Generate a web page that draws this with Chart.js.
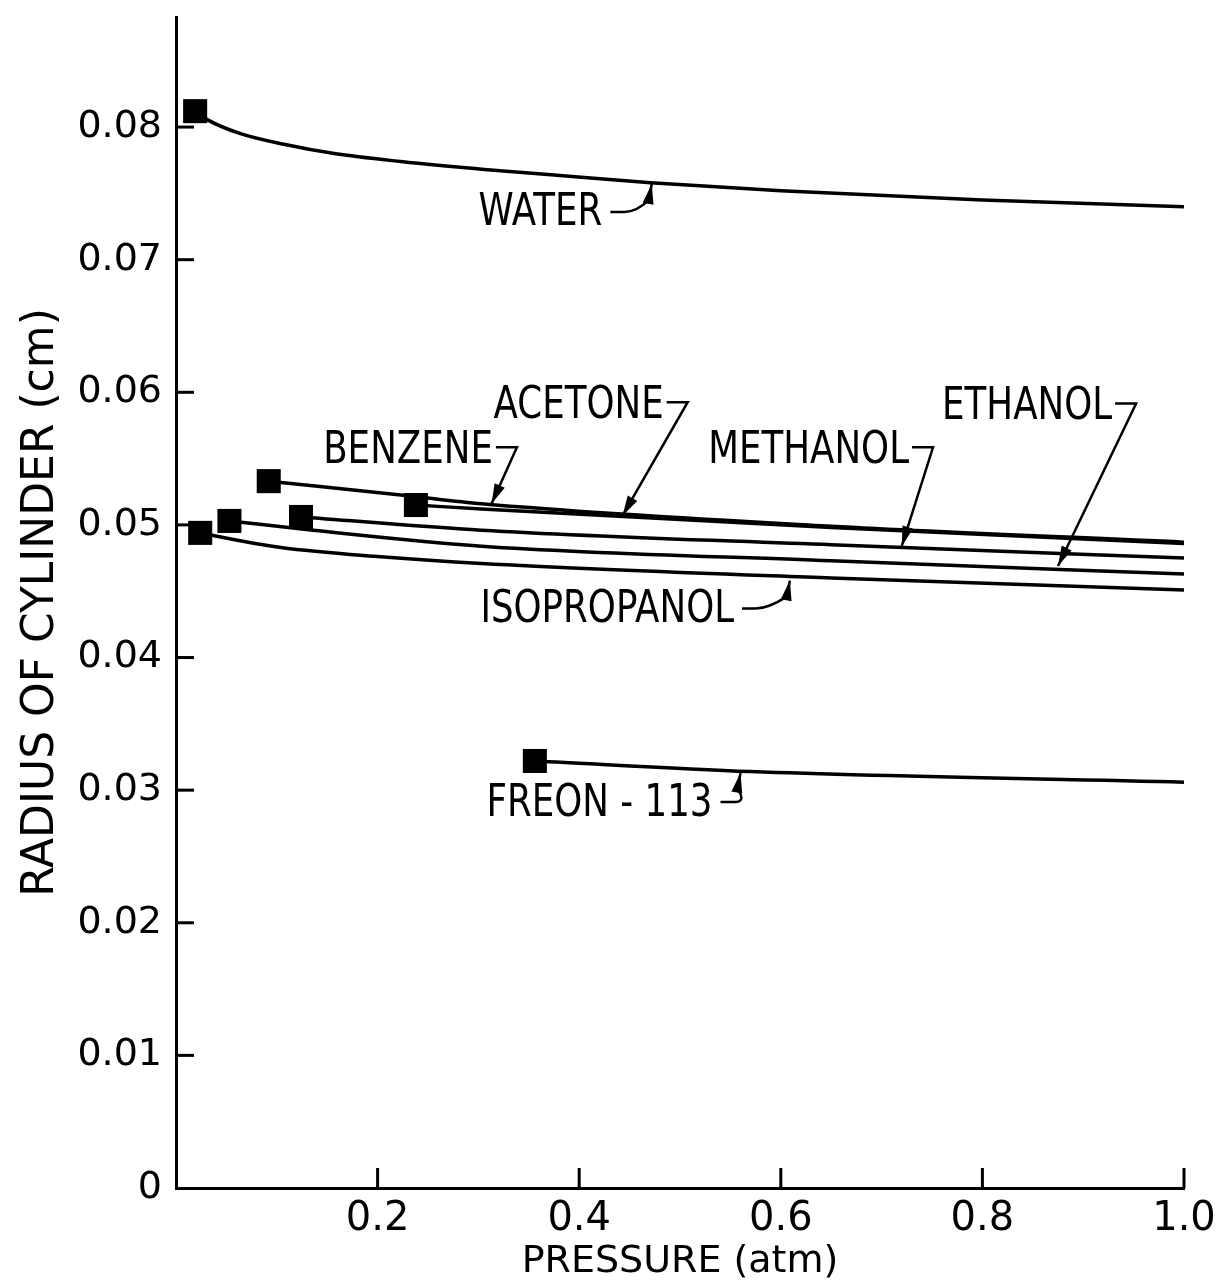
<!DOCTYPE html>
<html>
<head>
<meta charset="utf-8">
<script src="https://cdn.jsdelivr.net/npm/chart.js@4.4.0/dist/chart.umd.min.js"></script>
<style>
  html, body { margin: 0; padding: 0; background: #fff; }
  #wrap { width: 1225px; height: 1282px; }
</style>
</head>
<body>
<div id="wrap"><canvas id="chart" width="1225" height="1282"></canvas></div>
<script>
// ── Data (pressure in atm, radius in cm) ────────────────────────────────────

const waterP = [0.019, 0.030, 0.064, 0.107, 0.157, 0.223, 0.306, 0.372, 0.471, 0.600, 0.800, 1.0];
const waterR = [0.0812, 0.0806, 0.0795, 0.0787, 0.0780, 0.0774, 0.0768, 0.0764, 0.0758, 0.0752, 0.0745, 0.0740];

const benzeneP = [0.092, 0.230, 0.303, 0.650, 1.0];
const benzeneR = [0.0533, 0.0522, 0.0516, 0.0499, 0.0487];

const acetoneP = [0.238, 0.303, 0.650, 1.0];
const acetoneR = [0.0515, 0.0512, 0.0498, 0.0486];

const methanolP = [0.124, 0.303, 0.650, 1.0];
const methanolR = [0.0506, 0.0496, 0.0485, 0.0475];

const ethanolP = [0.053, 0.136, 0.303, 0.650, 1.0];
const ethanolR = [0.0503, 0.0496, 0.0484, 0.0473, 0.0463];

const isopropanolP = [0.024, 0.037, 0.104, 0.203, 0.303, 0.650, 1.0];
const isopropanolR = [0.0494, 0.0492, 0.0483, 0.0476, 0.0471, 0.0460, 0.0451];

const freonP = [0.356, 0.570, 1.0];
const freonR = [0.0322, 0.0314, 0.0306];

const xTicks = [0.2, 0.4, 0.6, 0.8, 1.0];
const yTicks = [0, 0.01, 0.02, 0.03, 0.04, 0.05, 0.06, 0.07, 0.08];

// label text, its left/middle anchor and the point its leader touches (data units)
const callouts = [
    { text: 'WATER',       x: 0.300, y: 0.0736, tipX: 0.472, tipY: 0.0757, kind: 'hook' },
    { text: 'BENZENE',     x: 0.146, y: 0.0557, tipX: 0.313, tipY: 0.0516, kind: 'flag' },
    { text: 'ACETONE',     x: 0.315, y: 0.0591, tipX: 0.443, tipY: 0.0507, kind: 'flag' },
    { text: 'METHANOL',    x: 0.528, y: 0.0557, tipX: 0.720, tipY: 0.0484, kind: 'flag' },
    { text: 'ETHANOL',     x: 0.760, y: 0.0590, tipX: 0.875, tipY: 0.0469, kind: 'flag' },
    { text: 'ISOPROPANOL', x: 0.302, y: 0.0437, tipX: 0.609, tipY: 0.0458, kind: 'hook' },
    { text: 'FREON - 113', x: 0.308, y: 0.0291, tipX: 0.560, tipY: 0.0313, kind: 'hook' },
];

// ── Helpers ─────────────────────────────────────────────────────────────────

const FONT = '"DejaVu Sans", "Liberation Sans", sans-serif';

function pts(xs, ys) {
    return xs.map((v, i) => ({ x: v, y: ys[i] }));
}

function curve(label, xs, ys) {
    return {
        label,
        data: pts(xs, ys),
        borderColor: '#000',
        borderWidth: 3.5,
        cubicInterpolationMode: 'monotone',
        pointStyle: 'rect',
        pointRadius: ctx => (ctx.dataIndex === 0 ? 17 : 0),
        pointBackgroundColor: '#000',
        pointBorderWidth: 0,
        fill: false,
    };
}

function arrowHead(ctx, fromX, fromY, tipX, tipY) {
    const a = Math.atan2(tipY - fromY, tipX - fromX);
    const len = 20, half = 5.5;
    const bx = tipX - Math.cos(a) * len, by = tipY - Math.sin(a) * len;
    ctx.beginPath();
    ctx.moveTo(tipX, tipY);
    ctx.lineTo(bx + Math.sin(a) * half, by - Math.cos(a) * half);
    ctx.lineTo(bx - Math.sin(a) * half, by + Math.cos(a) * half);
    ctx.closePath();
    ctx.fill();
}

function noEdgePadding(s) {
    s.paddingTop = 0;
    s.paddingBottom = 0;
    s.paddingLeft = 0;
    s.paddingRight = 0;
}

// inward tick marks + hand-lettered labels with leaders
const figurePlugin = {
    id: 'figure',
    afterDatasetsDraw(chart) {
        const { ctx, chartArea, scales: { x, y } } = chart;
        ctx.save();
        ctx.strokeStyle = '#000';
        ctx.fillStyle = '#000';
        ctx.lineWidth = 3;
        yTicks.forEach(v => {
            if (v === 0) return;
            const py = y.getPixelForValue(v);
            ctx.beginPath();
            ctx.moveTo(chartArea.left, py);
            ctx.lineTo(chartArea.left + 18, py);
            ctx.stroke();
        });
        xTicks.forEach(v => {
            const px = x.getPixelForValue(v);
            ctx.beginPath();
            ctx.moveTo(px, chartArea.bottom);
            ctx.lineTo(px, chartArea.bottom - 20);
            ctx.stroke();
        });

        callouts.forEach(c => {
            const tx = x.getPixelForValue(c.x), ty = y.getPixelForValue(c.y);
            ctx.save();
            ctx.translate(tx, ty);
            ctx.scale(0.81, 1);
            ctx.font = '44px ' + FONT;
            ctx.textAlign = 'left';
            ctx.textBaseline = 'middle';
            ctx.fillText(c.text, 0, 2);
            const w = ctx.measureText(c.text).width * 0.81;
            ctx.restore();

            const end = tx + w;
            const px = x.getPixelForValue(c.tipX), py = y.getPixelForValue(c.tipY);
            ctx.lineWidth = 2.5;
            ctx.beginPath();
            let fx, fy;
            if (c.kind === 'flag') {
                ctx.moveTo(end + 3, ty - 2);
                ctx.lineTo(end + 24, ty - 2);
                ctx.lineTo(px, py);
                fx = end + 24; fy = ty - 2;
            } else {
                ctx.moveTo(end + 8, ty);
                ctx.lineTo(end + 22, ty);
                ctx.quadraticCurveTo(end + 34, ty, px - 3, py + 16);
                ctx.lineTo(px, py);
                fx = px - 3; fy = py + 16;
            }
            ctx.stroke();
            arrowHead(ctx, fx, fy, px, py);
        });
        ctx.restore();
    }
};

// ── Chart ───────────────────────────────────────────────────────────────────

new Chart(document.getElementById('chart').getContext('2d'), {
    type: 'line',
    data: {
        datasets: [
            curve('Water', waterP, waterR),
            curve('Benzene', benzeneP, benzeneR),
            curve('Acetone', acetoneP, acetoneR),
            curve('Methanol', methanolP, methanolR),
            curve('Ethanol', ethanolP, ethanolR),
            curve('Isopropanol', isopropanolP, isopropanolR),
            curve('Freon-113', freonP, freonR),
        ]
    },
    options: {
        responsive: false,
        animation: false,
        events: [],
        layout: { padding: { top: 1, right: 41, left: 0, bottom: 0 } },
        plugins: { legend: { display: false }, tooltip: { enabled: false } },
        scales: {
            x: {
                type: 'linear',
                min: 0,
                max: 1.0,
                afterBuildTicks: s => { s.ticks = xTicks.map(v => ({ value: v })); },
                afterFit: s => { s.height = 94; noEdgePadding(s); },
                ticks: {
                    color: '#000',
                    padding: 8,
                    maxRotation: 0,
                    font: { family: FONT, size: 40 },
                    callback: v => v.toFixed(1),
                },
                grid: { display: true, drawOnChartArea: false, drawTicks: false },
                border: { display: true, color: '#000', width: 3 },
                title: {
                    display: true,
                    text: 'PRESSURE (atm)',
                    color: '#000',
                    font: { family: FONT, size: 38, lineHeight: 1 },
                    padding: { top: 0, bottom: 1 },
                },
            },
            y: {
                type: 'linear',
                min: 0,
                max: 0.0883,
                afterBuildTicks: s => { s.ticks = yTicks.map(v => ({ value: v })); },
                afterFit: s => { s.width = 176; noEdgePadding(s); },
                ticks: {
                    color: '#000',
                    padding: 14,
                    font: { family: FONT, size: 38 },
                    callback: v => (v === 0 ? '0' : v.toFixed(2)),
                },
                grid: { display: true, drawOnChartArea: false, drawTicks: false },
                border: { display: true, color: '#000', width: 3 },
                title: {
                    display: true,
                    text: 'RADIUS OF CYLINDER (cm)',
                    color: '#000',
                    font: { family: FONT, size: 44, lineHeight: 1 },
                    padding: { top: 20, bottom: 0 },
                },
            }
        }
    },
    plugins: [figurePlugin]
});
</script>
</body>
</html>
